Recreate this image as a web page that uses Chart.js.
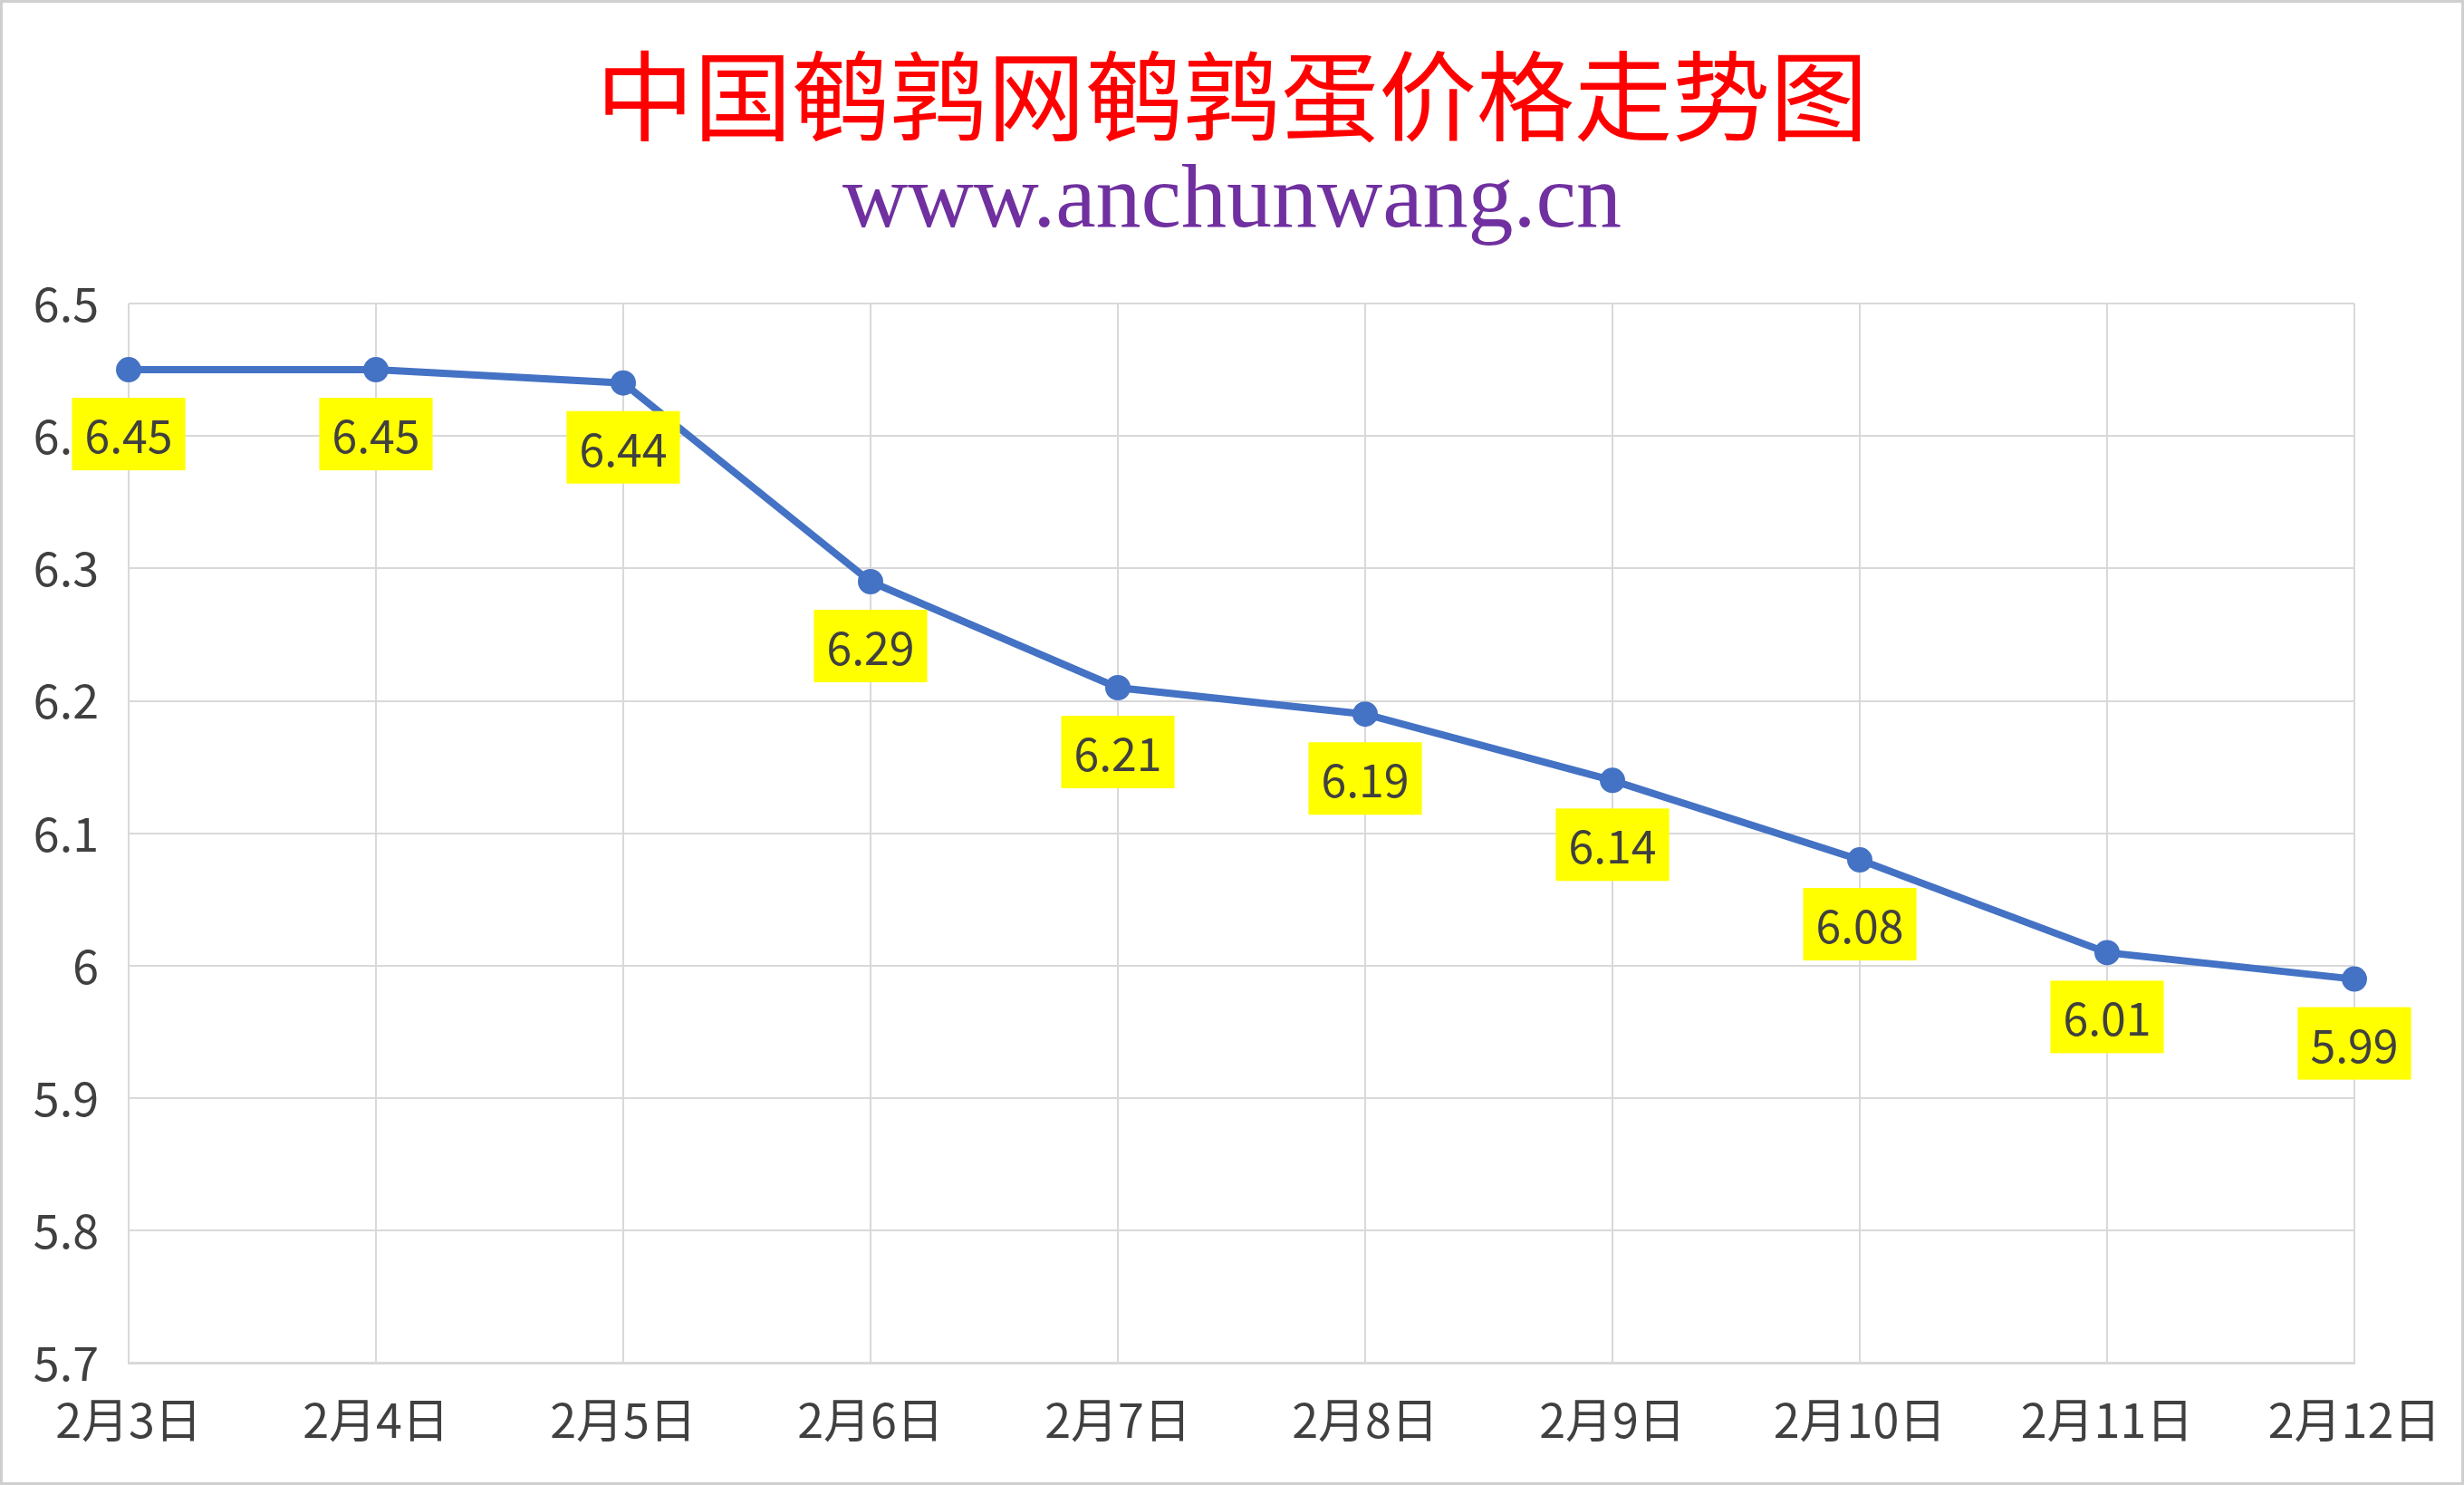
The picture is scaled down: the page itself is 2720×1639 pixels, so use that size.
<!DOCTYPE html>
<html>
<head>
<meta charset="utf-8">
<script src="https://cdn.jsdelivr.net/npm/chart.js@4.4.1/dist/chart.umd.min.js"></script>
<style>
  html, body { margin: 0; padding: 0; background: #fff; }
  #wrap {
    width: 100vw;
    height: 100vh;
    box-sizing: border-box;
    border: 3px solid #cfcfcf;
    position: relative;
  }
</style>
</head>
<body>
<div id="wrap"><canvas id="chart"></canvas></div>
<script>
const TITLE = "中国鹌鹑网鹌鹑蛋价格走势图";
const SUBTITLE = "www.anchunwang.cn";
const days = ["2月3日", "2月4日", "2月5日", "2月6日", "2月7日", "2月8日", "2月9日", "2月10日", "2月11日", "2月12日"];
const prices = [6.45, 6.45, 6.44, 6.29, 6.21, 6.19, 6.14, 6.08, 6.01, 5.99];
const yMin = 5.7;
const yMax = 6.5;
const yStep = 0.1;

const CJK = '"Noto Sans CJK SC", "Noto Sans", sans-serif';

// yellow value boxes under each point
const valueBoxes = {
  id: "valueBoxes",
  afterDatasetsDraw(chart) {
    const ctx = chart.ctx;
    const meta = chart.getDatasetMeta(0);
    ctx.save();
    ctx.font = "50px " + CJK;
    ctx.textAlign = "center";
    ctx.textBaseline = "middle";
    meta.data.forEach((pt, i) => {
      const txt = prices[i].toFixed(2);
      const w = ctx.measureText(txt).width + 28;
      const h = 80;
      const cy = pt.y + 71;
      ctx.fillStyle = "#ffff00";
      ctx.fillRect(pt.x - w / 2, cy - h / 2, w, h);
      ctx.fillStyle = "#404040";
      ctx.fillText(txt, pt.x, cy + 2);
    });
    ctx.restore();
  },
};

new Chart(document.getElementById("chart"), {
  type: "line",
  data: {
    labels: days,
    datasets: [
      {
        data: prices,
        borderColor: "#4472c4",
        backgroundColor: "#4472c4",
        borderWidth: 8,
        pointRadius: 10,
        pointHoverRadius: 10,
        tension: 0,
      },
    ],
  },
  options: {
    responsive: true,
    maintainAspectRatio: false,
    animation: false,
    layout: { padding: { left: 0, right: 0, top: 0, bottom: 7 } },
    plugins: {
      legend: { display: false },
      tooltip: { enabled: false },
      title: {
        display: true,
        text: TITLE,
        color: "#ff0000",
        font: { family: CJK, size: 108, weight: "normal", lineHeight: 1.0 },
        padding: { top: 49, bottom: 0 },
      },
      subtitle: {
        display: true,
        text: SUBTITLE,
        color: "#7030a0",
        font: { family: '"Liberation Serif", "Times New Roman", serif', size: 100, lineHeight: 1.0 },
        padding: { top: 14, bottom: 61 },
      },
    },
    scales: {
      x: {
        offset: false,
        grid: { color: "#d9d9d9", lineWidth: 2, drawTicks: false, offset: false },
        border: { color: "#d9d9d9", width: 3 },
        ticks: { color: "#404040", font: { family: CJK, size: 52 }, padding: 31, maxRotation: 0, autoSkip: false },
        afterFit(scale) {
          scale.paddingLeft = 0;
          scale.paddingRight = 118;
        },
      },
      y: {
        min: yMin,
        max: yMax,
        grid: { color: "#d9d9d9", lineWidth: 2, drawTicks: false },
        border: { display: false },
        ticks: {
          stepSize: yStep,
          color: "#404040",
          font: { family: CJK, size: 52 },
          padding: 33,
          callback: (v) => String(Number(Number(v).toFixed(1))),
        },
        afterFit(scale) {
          scale.width = 139;
        },
      },
    },
  },
  plugins: [valueBoxes],
});
</script>
</body>
</html>
